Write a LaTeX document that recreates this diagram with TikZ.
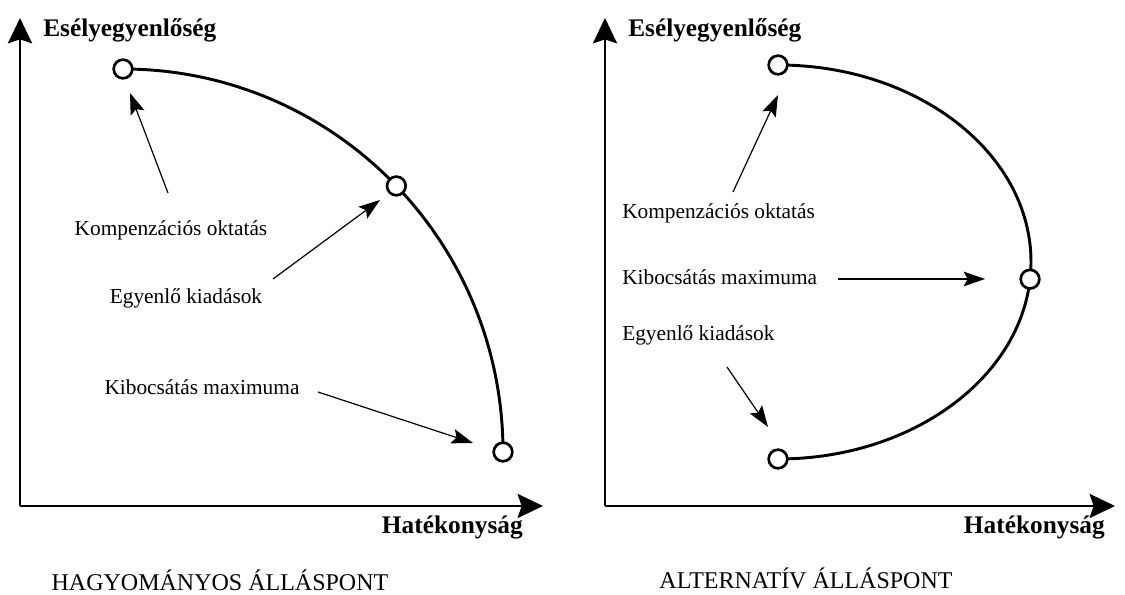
\documentclass[tikz,border=0pt]{standalone}
\usepackage{fontspec}
\setmainfont{Liberation Serif}
\usetikzlibrary{arrows.meta, positioning, calc}

\begin{document}
\begin{tikzpicture}[x=0.75pt, y=0.75pt,
    axis/.style={line width=2.2pt, -{Stealth[length=19pt, width=18pt, inset=3pt]}},
    pt/.style={draw, circle, line width=2pt, fill=white, minimum size=14pt, inner sep=0pt},
    curve/.style={line width=2.2pt},
    ptr/.style={line width=0.9pt, -{Stealth[length=16pt, width=11pt, inset=3pt]}},
    lbl/.style={font=\fontsize{16}{18}\selectfont, inner sep=0pt},
    axlbl/.style={font=\fontsize{19}{22}\selectfont\bfseries, inner sep=0pt},
    ttl/.style={font=\fontsize{18}{21}\selectfont, inner sep=0pt}]
  \useasboundingbox (0,0) rectangle (1125,595);
  % left panel: hagyomanyos
  \coordinate (o1) at (20,89);
  \draw[axis] (o1) -- (20,577) coordinate (ya1);
  \draw[axis] (o1) -- (543,89) coordinate (xa1);
  \node[axlbl, anchor=west] (ey1) at (43,565) {Esélyegyenlőség};
  \node[axlbl, anchor=east] (hat1) at (523,67) {Hatékonyság};
  \node[ttl] (ttl1) at (220,15) {HAGYOMÁNYOS ÁLLÁSPONT};
  \coordinate (c1) at (123,143);
  \draw[curve] (c1) ++(90:380 and 383) arc[start angle=90, end angle=0, x radius=380, y radius=383];
  \node[pt] (a1) at ($(c1)+(90:380 and 383)$) {};
  \node[pt] (a2) at ($(c1)+(44:380 and 383)$) {};
  \node[pt] (a3) at ($(c1)+(0:380 and 383)$) {};
  \node[lbl] (komp1) at (171,365) {Kompenzációs oktatás};
  \node[lbl] (egy1) at (186,297) {Egyenlő kiadások};
  \node[lbl] (kib1) at (202,208) {Kibocsátás maximuma};
  \coordinate (k1s) at (168,402);
  \coordinate (k1t) at (130,502);
  \coordinate (e1s) at (273,316);
  \coordinate (e1t) at (380,395);
  \coordinate (m1s) at (318,203);
  \coordinate (m1t) at (473,152);
  \draw[ptr] (k1s) -- (k1t);
  \draw[ptr] (e1s) -- (e1t);
  \draw[ptr] (m1s) -- (m1t);
  % right panel: alternativ
  \coordinate (o2) at (605,89);
  \draw[axis] (o2) -- (605,577) coordinate (ya2);
  \draw[axis] (o2) -- (1115,89) coordinate (xa2);
  \node[axlbl, anchor=west] (ey2) at (628,565) {Esélyegyenlőség};
  \node[axlbl, anchor=east] (hat2) at (1105,67) {Hatékonyság};
  \node[ttl] (ttl2) at (806,17) {ALTERNATÍV ÁLLÁSPONT};
  \coordinate (c2) at (778,333);
  \draw[curve] (c2) ++(90:253 and 197) arc[start angle=90, end angle=-90, x radius=253, y radius=197];
  \node[pt] (b1) at ($(c2)+(90:253 and 197)$) {};
  \node[pt] (b2) at ($(c2)+(-5:253 and 197)$) {};
  \node[pt] (b3) at ($(c2)+(-90:253 and 197)$) {};
  \node[lbl, anchor=west] (komp2) at (622,382) {Kompenzációs oktatás};
  \node[lbl, anchor=west] (kib2) at (622,318) {Kibocsátás maximuma};
  \node[lbl, anchor=west] (egy2) at (622,260) {Egyenlő kiadások};
  \coordinate (k2s) at (733,403);
  \coordinate (k2t) at (778,500);
  \coordinate (m2s) at (838,316);
  \coordinate (m2t) at (985,316);
  \coordinate (e2s) at (727,228);
  \coordinate (e2t) at (768,168);
  \draw[ptr] (k2s) -- (k2t);
  \draw[ptr] (m2s) -- (m2t);
  \draw[ptr] (e2s) -- (e2t);
\end{tikzpicture}
\end{document}
